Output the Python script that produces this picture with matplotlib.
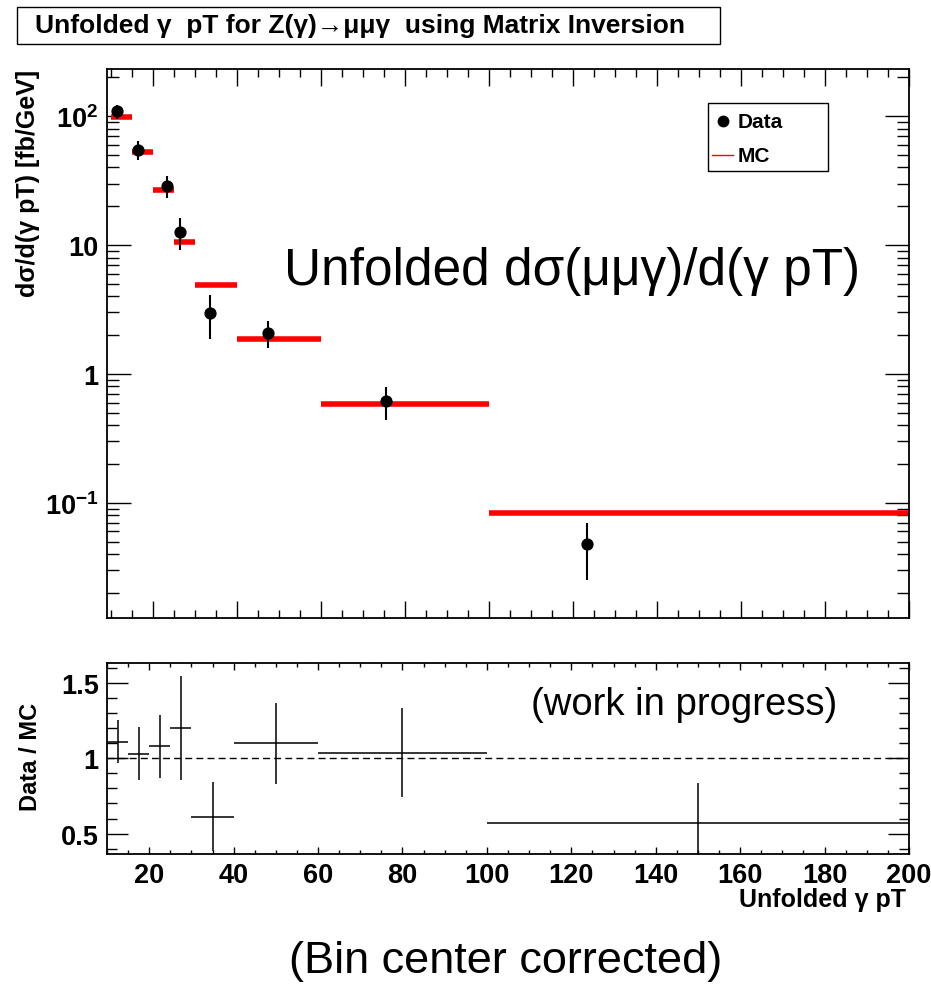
import matplotlib
matplotlib.use('Agg')
import numpy as np
import matplotlib.pyplot as plt
from matplotlib.patches import Rectangle
from matplotlib.lines import Line2D
from matplotlib.ticker import FixedLocator, MultipleLocator, NullFormatter, LogLocator

# bins and values
edges = [10, 15, 20, 25, 30, 40, 60, 100, 200]
mc = [98, 53, 26.9, 10.5, 4.9, 1.88, 0.59, 0.084]
data_x = [11.4, 16.5, 23.4, 26.5, 33.5, 47.4, 75.4, 123.3]
data_y = [109, 55, 28.7, 12.7, 2.98, 2.08, 0.617, 0.0477]
data_err = [13.7, 9.4, 5.6, 3.6, 1.1, 0.5, 0.175, 0.0223]
ratio = [1.11, 1.03, 1.077, 1.20, 0.612, 1.097, 1.037, 0.568]
ratio_err = [0.144, 0.178, 0.208, 0.345, 0.23, 0.268, 0.297, 0.266]

ytick_vals = [0.1, 1, 10, 100]
ytick_labels = [r'$\mathbf{10^{-1}}$', '1', '10', r'$\mathbf{10^{2}}$']

plt.rcParams['font.family'] = ['Liberation Sans', 'DejaVu Sans']
plt.rcParams['font.weight'] = 'bold'
plt.rcParams['mathtext.fontset'] = 'custom'
plt.rcParams['mathtext.bf'] = 'Liberation Sans:bold'
plt.rcParams['mathtext.rm'] = 'Liberation Sans'

W, H = 931, 987
fig = plt.figure(figsize=(W / 100, H / 100), dpi=100)

def fx(px):
  return px / W

def fy(py):
  return 1 - py / H

ax1 = fig.add_axes([fx(107), fy(619), fx(909) - fx(107), fy(70) - fy(619)])
ax2 = fig.add_axes([fx(107), fy(855), fx(909) - fx(107), fy(664) - fy(855)])

lo = np.array(edges[:-1], dtype=float)
hi = np.array(edges[1:], dtype=float)
centers = (lo + hi) / 2
half = (hi - lo) / 2

# top panel
ax1.hlines(mc, lo, hi, colors='#ff0000', linewidth=4, zorder=2)
ax1.errorbar(data_x, data_y, yerr=data_err, fmt='o', color='black', markersize=7.8,
             elinewidth=1.5, capsize=0, zorder=3)
ax1.set_yscale('log')
ax1.set_xlim(9, 200)
ax1.set_ylim(0.0128, 232)
ax1.yaxis.set_major_locator(FixedLocator(ytick_vals))
ax1.set_yticklabels(ytick_labels)
ax1.yaxis.set_minor_locator(LogLocator(base=10, subs=np.arange(2, 10)))
ax1.yaxis.set_minor_formatter(NullFormatter())
ax1.xaxis.set_major_locator(MultipleLocator(20))
ax1.xaxis.set_minor_locator(MultipleLocator(5))
ax1.tick_params(axis='x', which='major', direction='in', length=12, width=1, top=True, labelbottom=False)
ax1.tick_params(axis='x', which='minor', direction='in', length=5.5, width=1, top=True)
ax1.tick_params(axis='y', which='major', direction='in', length=17, width=1, right=True, labelsize=19.5, pad=6)
ax1.tick_params(axis='y', which='minor', direction='in', length=8.6, width=1, right=True)
for s in ax1.spines.values():
  s.set_linewidth(1.3)

# legend box, drawn by hand like the ROOT TLegend
fig.add_artist(Rectangle((fx(708), fy(172)), fx(828) - fx(708), fy(104) - fy(172),
                         transform=fig.transFigure, facecolor='white',
                         edgecolor='black', linewidth=1, zorder=5))
fig.add_artist(Line2D([fx(723)], [fy(122)], marker='o', color='black', markersize=7.5,
                      linestyle='none', transform=fig.transFigure, zorder=6))
fig.add_artist(Line2D([fx(712), fx(733)], [fy(156), fy(156)], color='#ff0000', linewidth=1,
                      transform=fig.transFigure, zorder=6))
fig.text(fx(738), fy(123), 'Data', ha='left', va='center', fontsize=15, zorder=6)
fig.text(fx(738), fy(157), 'MC', ha='left', va='center', fontsize=15, zorder=6)

fig.text(fx(572), fy(272), 'Unfolded dσ(μμγ)/d(γ pT)', ha='center', va='center',
         fontsize=37, fontweight='normal')

# ratio panel
ax2.errorbar(centers, ratio, xerr=half, yerr=ratio_err, fmt='none', ecolor='black',
             elinewidth=1.1, capsize=0)
ax2.axhline(1, color='black', linewidth=1, linestyle=(0, (5, 3)))
ax2.set_xlim(10, 200)
ax2.set_ylim(0.365, 1.63)
ax2.xaxis.set_major_locator(MultipleLocator(20))
ax2.xaxis.set_minor_locator(MultipleLocator(5))
ax2.yaxis.set_major_locator(FixedLocator([0.5, 1, 1.5]))
ax2.set_yticklabels(['0.5', '1', '1.5'])
ax2.yaxis.set_minor_locator(MultipleLocator(0.1))
ax2.tick_params(axis='x', which='major', direction='in', length=5, width=1, top=True, labelsize=19.5, pad=6)
ax2.tick_params(axis='x', which='minor', direction='in', length=3, width=1, top=True)
ax2.tick_params(axis='y', which='major', direction='in', length=15, width=1, right=True, labelsize=19.5, pad=6)
ax2.tick_params(axis='y', which='minor', direction='in', length=7, width=1, right=True)
for s in ax2.spines.values():
  s.set_linewidth(1.3)

fig.text(fx(684), fy(705), '(work in progress)', ha='center', va='center',
         fontsize=27.5, fontweight='normal')

# labels
fig.text(fx(28), fy(70), 'dσ/d(γ pT) [fb/GeV]', rotation=90, ha='center', va='top', fontsize=18)
fig.text(fx(31), fy(757), 'Data / MC', rotation=90, ha='center', va='center', fontsize=17)
fig.text(fx(906), fy(900), 'Unfolded γ pT', ha='right', va='center', fontsize=18)

# title box
fig.patches.append(Rectangle((fx(17), fy(45)), fx(720) - fx(17), fy(8) - fy(45),
                             transform=fig.transFigure, facecolor='white',
                             edgecolor='black', linewidth=1))
fig.text(fx(360), fy(26), 'Unfolded γ  pT for Z(γ)→μμγ  using Matrix Inversion',
         ha='center', va='center', fontsize=19)

fig.text(fx(506), fy(962), '(Bin center corrected)', ha='center', va='center',
         fontsize=32.5, fontweight='normal')

fig.savefig('out.png', dpi=100)
